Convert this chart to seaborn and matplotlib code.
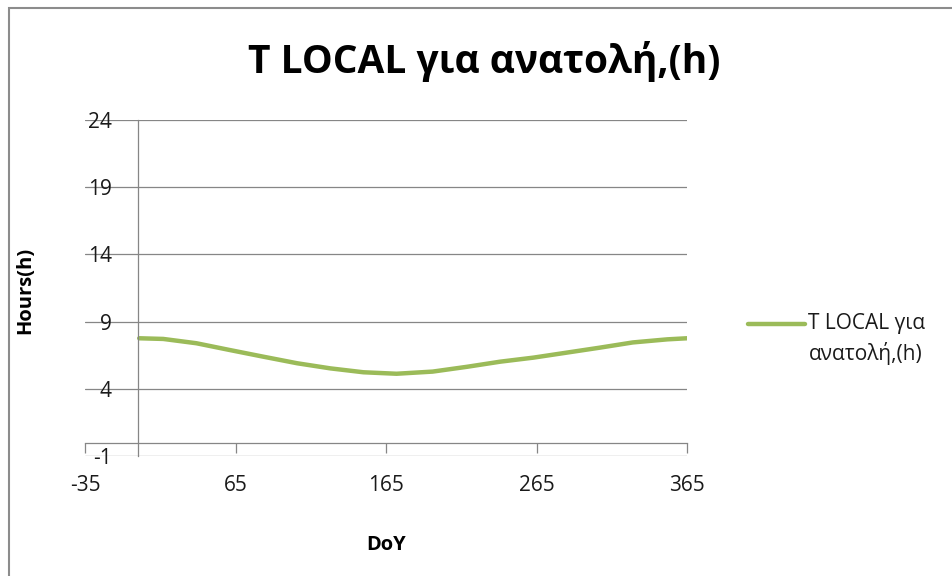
import numpy as np
import pandas as pd
import matplotlib
matplotlib.use("Agg")
import matplotlib.pyplot as plt
from matplotlib.patches import Rectangle
import seaborn as sns

# values (day of year -> local sunrise time, hours)
doy = [1, 17, 39, 61, 83, 106, 128, 150, 172, 196, 219, 241, 263, 285, 307, 329, 352, 365]
hours = [7.76, 7.71, 7.39, 6.89, 6.40, 5.90, 5.52, 5.23, 5.12, 5.28, 5.64, 6.02, 6.32,
         6.69, 7.06, 7.45, 7.68, 7.76]
x_ticks = [-35, 65, 165, 265, 365]
y_ticks = [-1, 4, 9, 14, 19, 24]

title = "T LOCAL για ανατολή,(h)"
series_label = "T LOCAL για\nανατολή,(h)"

df = pd.DataFrame({"DoY": doy, "Hours": hours})

sns.set_style("white")
plt.rcParams["font.family"] = ["Open Sans", "DejaVu Sans"]
plt.rcParams["axes.unicode_minus"] = False

grey = "#868686"
green = "#9BBB59"
txt = "#1a1a1a"

fig = plt.figure(figsize=(9.52, 5.76), dpi=100)
ax = fig.add_axes([85 / 952, 120 / 576, 602 / 952, 336 / 576])

sns.lineplot(data=df, x="DoY", y="Hours", ax=ax, color=green, linewidth=3.2,
             label=series_label, legend=False)

ax.set_xlim(-35, 365)
ax.set_ylim(-1, 24)
ax.set_xticks(x_ticks)
ax.set_yticks(y_ticks)
ax.yaxis.grid(True, color=grey, linewidth=0.9)
ax.set_axisbelow(True)

# axes cross at zero like the excel chart
ax.spines["left"].set_position(("data", 0))
ax.spines["bottom"].set_position(("data", 0))
ax.spines["top"].set_visible(False)
ax.spines["right"].set_visible(False)
for s in ["left", "bottom"]:
    ax.spines[s].set_color(grey)
    ax.spines[s].set_linewidth(0.9)

ax.tick_params(axis="y", length=0, pad=18.5, labelsize=15, labelcolor=txt)
ax.tick_params(axis="x", direction="out", length=7, width=0.9, color=grey,
               pad=16.5, labelsize=15, labelcolor=txt, bottom=True)

ax.set_xlabel("DoY", fontsize=14.5, fontweight="bold", color="black")
ax.set_ylabel("Hours(h)", fontsize=14.5, fontweight="bold", color="black")
ax.xaxis.set_label_coords((386 - 85) / 602, (456 - 535) / 336)
ax.yaxis.set_label_coords((35 - 85) / 602, (456 - 290) / 336)

fig.text(484 / 952, 1 - 62 / 576, title, ha="center", va="center",
         fontsize=28, fontweight="bold", color="black")

handles, labels = ax.get_legend_handles_labels()
leg = fig.legend(handles, labels, loc="center left", bbox_to_anchor=(748 / 952, 1 - 339 / 576),
                 frameon=False, fontsize=15, handlelength=2.75, handletextpad=0.15,
                 borderpad=0, borderaxespad=0)
for t in leg.get_texts():
    t.set_linespacing(1.45)
    t.set_color(txt)
# excel puts the legend key next to the first line of the label
for ln in leg.get_lines():
    ln.set_ydata(np.asarray(ln.get_ydata()) + 11.5)
    ln.set_linewidth(3.2)

# chart area border
fig.patches.append(Rectangle((9 / 952, -0.1), 1.2, 1.1 - 8 / 576, transform=fig.transFigure,
                             fill=False, edgecolor="#8c8c8c", linewidth=1.5))

fig.savefig("out.png", dpi=100)
